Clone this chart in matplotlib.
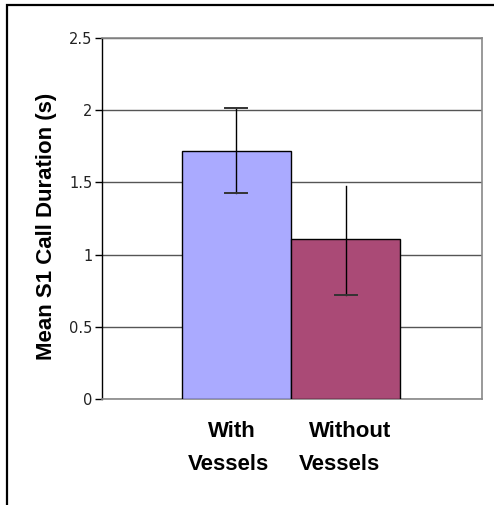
import matplotlib
matplotlib.use("Agg")
import matplotlib.pyplot as plt
from matplotlib.patches import Rectangle

categories = ["With\nVessels", "Without\nVessels"]
means = [1.72, 1.105]
err_low = [0.29, 0.385]
err_high = [0.295, 0.37]
bar_colors = ["#aaaaff", "#aa4a76"]
yticks = [0, 0.5, 1, 1.5, 2, 2.5]
ytick_labels = ["0", "0.5", "1", "1.5", "2", "2.5"]

W, H = 494, 505
fig = plt.figure(figsize=(W / 100, H / 100), dpi=100)

# figure frame (left & top visible)
fig.add_artist(Rectangle((7 / W, -0.1), 1.2, 1.1 - 4.5 / H,
                         transform=fig.transFigure, fill=False,
                         edgecolor="black", linewidth=1.6))

ax_l, ax_r, ax_t, ax_b = 102, 482, 38, 399
ax = fig.add_axes([ax_l / W, 1 - ax_b / H, (ax_r - ax_l) / W, (ax_b - ax_t) / H])

x = list(range(len(categories)))
ax.bar(x, means, width=1.0, color=bar_colors, edgecolor="black",
       linewidth=1.0, zorder=3)

# error bars
for i in x:
    ax.plot([i, i], [means[i] - err_low[i], means[i] + err_high[i]],
            color="black", lw=1.0, zorder=4)
    ax.plot([i - 0.1, i + 0.1], [means[i] - err_low[i]] * 2,
            color="#333333", lw=1.4, zorder=4)
    if i == 0:
        ax.plot([i - 0.1, i + 0.1], [means[i] + err_high[i]] * 2,
                color="#333333", lw=1.4, zorder=4)

ax.set_xlim(-1.227, 2.245)
ax.set_ylim(0, 2.5)
ax.set_yticks(yticks)
ax.set_yticklabels(ytick_labels, fontsize=10.5, color="#222222",
                   family="DejaVu Sans")
ax.yaxis.grid(True, color="#555555", linewidth=1.0, zorder=0)
ax.set_axisbelow(True)

ax.set_xticks([])
for s in ["top", "right", "bottom"]:
    ax.spines[s].set_color("#888888")
    ax.spines[s].set_linewidth(1.2)
ax.spines["left"].set_color("black")
ax.spines["left"].set_linewidth(1.0)
ax.tick_params(axis="y", length=5, width=1, color="black", pad=2)

# category labels (one text per line)
line_pos = [[-0.04, -0.07], [1.04, 0.94]]
line_y = [-0.0914, -0.1828]
for lab, xs in zip(categories, line_pos):
    for line, xi, yi in zip(lab.split("\n"), xs, line_y):
        ax.text(xi, yi, line, transform=ax.get_xaxis_transform(),
                ha="center", va="center", fontsize=16, fontweight="bold",
                family="Liberation Sans")

fig.text(47 / W, 1 - 226 / H, "Mean S1 Call Duration (s)", rotation=90,
         ha="center", va="center", fontsize=16, fontweight="bold",
         family="Liberation Sans")

fig.savefig("out.png", dpi=100)
